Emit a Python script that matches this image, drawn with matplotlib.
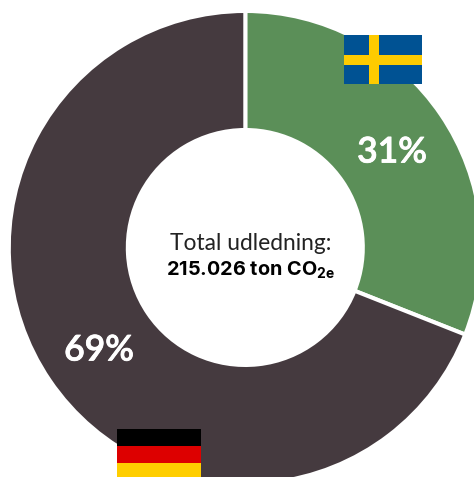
import matplotlib
matplotlib.use("Agg")
import matplotlib.pyplot as plt
import matplotlib.patheffects as pe
from matplotlib.patches import Rectangle

plt.rcParams["font.family"] = ["Lato", "DejaVu Sans"]
plt.rcParams["mathtext.fontset"] = "custom"
plt.rcParams["mathtext.bf"] = "Inter:bold"
plt.rcParams["mathtext.rm"] = "Inter"

# Emission shares, clockwise from twelve o'clock
countries = ["Sverige", "Tyskland"]
shares = [31, 69]
share_labels = ["31%", "69%"]
colors = ["#5B8F58", "#453A3F"]

title_line = "Total udledning:"
total_line = r"215.026 ton CO$_{\mathbf{2e}}$"

W, H = 474, 477
# The small offset keeps the canvas from rounding down a pixel
fig = plt.figure(figsize=((W + 0.01) / 100, (H + 0.01) / 100), dpi=100, facecolor="white")
ax = fig.add_axes([0, 0, 1, 1])

# Pixel-style coordinates with the origin at the top left
ax.pie(
    shares,
    colors=colors,
    startangle=90,
    counterclock=False,
    center=(245.3, -247.5),
    radius=236.5,
    frame=True,
    wedgeprops=dict(width=119, edgecolor="white", linewidth=2.9),
)
ax.set_xlim(0, W)
ax.set_ylim(-H, 0)
ax.set_aspect("equal")
ax.axis("off")


def band(x0, y0, x1, y1, color):
    ax.add_patch(Rectangle((x0, -y1), x1 - x0, y1 - y0, facecolor=color,
                           edgecolor="none", zorder=5))


# Swedish flag
band(344, 35, 422, 84, "#005293")
band(368.5, 35, 378.5, 84, "#FECB00")
band(344, 55, 422, 65, "#FECB00")

# German flag
band(117, 429, 201, 446, "#000000")
band(117, 446, 201, 463, "#DD0000")
band(117, 463, 201, 477, "#FFCE00")

# Share labels on the ring, slightly thickened with a white outline
thicken = [pe.withStroke(linewidth=0.6, foreground="white")]
ax.text(392, -152.5, share_labels[0], color="white", fontsize=25.5, fontweight=600,
        ha="center", va="center", zorder=6, path_effects=thicken)
ax.text(99, -350.5, share_labels[1], color="white", fontsize=25.5, fontweight=600,
        ha="center", va="center", zorder=6, path_effects=thicken)

# Centre caption
ax.text(250.5, -243, title_line, color="#222222", fontsize=16.4, fontweight="normal",
        ha="center", va="center")
ax.text(250.5, -270, total_line, color="black", fontsize=14.3, fontweight="bold",
        family=["Inter", "DejaVu Sans"], ha="center", va="center")

fig.savefig("out.png", dpi=100, facecolor="white")
